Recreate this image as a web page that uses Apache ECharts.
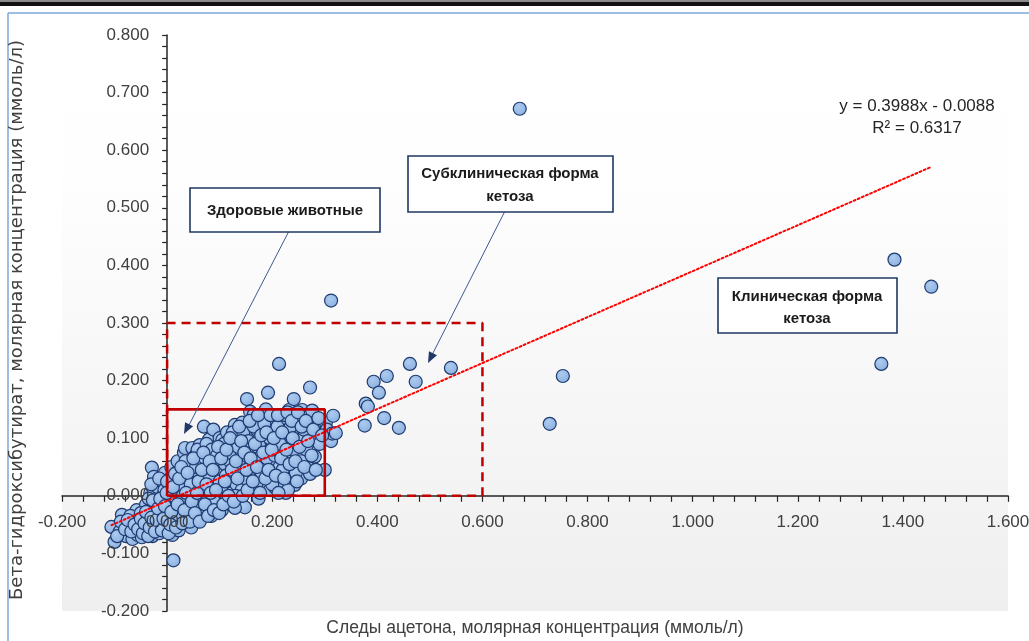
<!DOCTYPE html>
<html><head><meta charset="utf-8">
<script src="https://cdn.jsdelivr.net/npm/echarts@6/dist/echarts.min.js"></script>
<style>html,body{margin:0;padding:0;background:#fff}#c{width:1029px;height:641px}</style>
</head><body><div id="c"></div>
<script>
// ---- data ----
const xTickLabels = ['-0.200','0.000','0.200','0.400','0.600','0.800','1.000','1.200','1.400','1.600'];
const yTickLabels = ['-0.200','-0.100','0.000','0.100','0.200','0.300','0.400','0.500','0.600','0.700','0.800'];

const clusterPoints = [
[-0.106,-0.054],[-0.100,-0.080],[-0.086,-0.033],[-0.090,-0.062],[-0.078,-0.070],[-0.072,-0.052],[-0.066,-0.075],[-0.060,-0.040],[-0.064,-0.060],[-0.056,-0.068],[-0.052,-0.050],[-0.058,-0.025],
[-0.048,-0.072],[-0.045,-0.058],[-0.042,-0.035],[-0.040,-0.015],[-0.038,-0.062],[-0.035,-0.045],[-0.032,0.005],[-0.029,0.049],[-0.025,0.033],[-0.028,-0.070],[-0.024,-0.052],[-0.022,-0.030],[-0.020,-0.010],[-0.018,0.015],[-0.026,-0.020],
[-0.015,-0.065],[-0.012,-0.045],[-0.010,-0.025],[-0.008,0.000],[-0.006,0.022],[-0.004,0.040],[-0.002,-0.058],[0.000,-0.035],[0.002,-0.012],[0.004,0.010],[0.006,0.030],[0.008,0.050],[0.012,-0.112],[0.010,0.028],[0.010,-0.068],[0.012,-0.048],[0.014,-0.020],
[0.016,0.005],[0.018,0.040],[0.020,0.060],[0.022,-0.060],[0.024,-0.030],[0.026,-0.002],[0.028,0.020],[0.030,0.045],[0.032,0.075],[0.034,0.083],[0.036,-0.045],[0.038,-0.015],[0.040,0.010],[0.042,0.032],[0.044,0.058],[0.046,-0.055],[0.048,0.083],[0.048,-0.028],[0.050,0.000],[0.050,0.048],
[0.052,0.022],[0.054,0.070],[0.056,-0.040],[0.058,-0.010],[0.060,0.040],[0.062,0.088],[0.064,0.012],[0.066,0.060],[0.068,-0.030],[0.070,0.030],[0.070,0.120],[0.074,0.075],[0.076,-0.005],[0.078,0.050],[0.080,0.098],[0.082,0.020],[0.084,-0.035],[0.086,0.065],[0.088,0.115],[0.088,0.002],[0.090,0.040],[0.092,0.085],[0.094,-0.020],[0.096,0.025],[0.098,0.058],[0.100,0.100],[0.100,0.005],
[0.102,0.040],[0.104,-0.025],[0.105,0.097],[0.106,0.072],[0.108,0.015],[0.110,0.055],[0.112,-0.008],[0.114,0.110],[0.116,0.085],[0.118,0.030],[0.120,0.060],[0.122,-0.015],[0.124,0.005],[0.126,0.040],[0.128,0.095],[0.129,0.123],[0.130,0.070],[0.132,0.020],[0.134,-0.005],[0.136,0.050],[0.138,0.105],[0.140,0.080],[0.142,0.010],[0.143,0.127],[0.144,0.035],[0.146,0.060],[0.148,-0.020],[0.150,0.090],[0.129,-0.021],
[0.152,0.168],[0.154,0.120],[0.156,0.045],[0.158,0.146],[0.160,0.075],[0.162,0.010],[0.164,0.100],[0.165,0.141],[0.166,0.030],[0.168,0.060],[0.170,0.115],[0.172,0.085],[0.174,-0.005],[0.176,0.045],[0.178,0.130],[0.180,0.070],[0.182,0.015],[0.184,0.100],[0.186,0.050],[0.188,0.150],[0.190,0.030],[0.192,0.179],[0.194,0.118],[0.195,0.080],[0.196,0.010],[0.198,0.060],[0.200,0.097],[0.200,0.135],
[0.202,0.040],[0.205,0.015],[0.208,0.110],[0.210,0.075],[0.213,0.229],[0.214,0.050],[0.216,0.130],[0.218,0.025],[0.220,0.090],[0.222,0.128],[0.224,0.060],[0.226,0.005],[0.228,0.110],[0.230,0.040],[0.232,0.149],[0.234,0.075],[0.236,0.100],[0.238,0.020],[0.240,0.130],[0.241,0.168],[0.241,0.054],[0.243,0.019],[0.245,0.090],[0.248,0.115],[0.250,0.065],
[0.255,0.030],[0.257,0.149],[0.258,0.100],[0.262,0.140],[0.265,0.080],[0.270,0.048],[0.272,0.038],[0.272,0.104],[0.272,0.188],[0.276,0.148],[0.281,0.068],[0.285,0.120],[0.290,0.090],[0.300,0.045],[0.302,0.127],[0.304,0.115],[0.312,0.095],[0.314,0.108],[0.316,0.139],[0.321,0.109],
[-0.070,-0.035],[-0.050,-0.030],[-0.035,-0.005],[-0.030,0.020],[-0.015,0.030],[-0.005,0.010],[0.000,0.025],[0.005,-0.040],[0.012,0.000],[0.018,-0.038],[0.025,0.015],[0.030,0.000],[0.035,0.060],[0.040,-0.035],[0.045,0.020],[0.055,0.050],[0.058,0.080],[0.063,-0.020],[0.070,0.010],[0.075,0.090],[0.080,0.035],[0.085,0.080],[0.090,-0.010],[0.095,0.070],[0.100,0.025],[0.108,0.090],[0.112,0.035],[0.118,0.075],[0.125,0.110],[0.130,0.000],[0.135,0.085],[0.140,0.050],[0.145,0.110],[0.150,0.030],[0.155,0.095],[0.160,0.055],[0.165,0.120],[0.170,0.020],[0.175,0.090],[0.180,0.040],[0.185,0.125],[0.190,0.065],[0.195,0.100],[0.200,0.020],[0.205,0.070],[0.210,0.120],[0.215,0.090],[0.220,0.045],[0.225,0.140],[0.230,0.010],[0.235,0.120],[0.240,0.080],[0.245,0.040],[0.250,0.130],[0.255,0.060],[0.260,0.115],
[-0.095,-0.070],[-0.088,-0.045],[-0.080,-0.058],[-0.075,-0.042],[-0.068,-0.062],[-0.062,-0.050],[-0.055,-0.058],[-0.050,-0.040],[-0.046,-0.065],[-0.043,-0.048],[-0.040,-0.028],[-0.036,-0.070],[-0.033,-0.055],[-0.030,-0.038],[-0.027,-0.008],[-0.023,-0.062],[-0.020,-0.042],[-0.017,-0.022],[-0.013,-0.005],[-0.010,-0.060],[-0.007,-0.040],[-0.004,-0.018],[-0.001,0.005],[0.003,-0.065],[0.006,-0.050],[0.008,-0.028],[0.011,0.015],[0.015,0.038],[0.017,-0.055],[0.020,-0.015],[0.023,0.030],[0.027,0.050],[0.029,-0.048],[0.033,-0.025],[0.036,0.005],[0.039,0.040],[0.043,-0.045],[0.047,-0.010],[0.050,0.065],[0.053,-0.030],[0.057,0.005],[0.060,0.025],[0.062,-0.045],[0.066,0.045],[0.069,0.075],[0.072,-0.015],[0.075,0.020],[0.078,-0.035],[0.081,0.060],[0.083,0.005],[0.087,0.045],[0.089,-0.025],[0.093,0.010],[0.097,0.085],[0.099,-0.030],[0.103,0.065],[0.107,-0.015],[0.110,0.025],[0.113,0.080],[0.117,0.000],[0.120,0.100],[0.123,0.045],[0.127,-0.010],[0.131,0.060],[0.134,0.030],[0.137,0.120],[0.141,0.095],[0.144,0.000],[0.147,0.075],[0.151,0.045],[0.153,0.010],[0.157,0.130],[0.159,0.065],[0.163,0.025],[0.167,0.090],[0.171,0.050],[0.173,0.140],[0.177,0.005],[0.179,0.105],[0.183,0.075],[0.187,0.030],[0.189,0.110],[0.193,0.045],[0.197,0.140],[0.199,0.080],[0.203,0.100],[0.207,0.035],[0.211,0.140],[0.212,0.005],[0.217,0.065],[0.219,0.110],[0.223,0.030],[0.227,0.080],[0.229,0.145],[0.233,0.055],[0.237,0.130],[0.239,0.100],[0.244,0.060],[0.247,0.025],[0.249,0.145],[0.252,0.085],[0.256,0.120],[0.261,0.050],[0.264,0.130],[0.268,0.095],[0.275,0.070],[0.278,0.115],[0.283,0.045],[0.288,0.135],[0.295,0.105]
];
const subclinicalPoints = [
[0.312,0.339],[0.462,0.229],[0.540,0.222],[0.418,0.208],[0.393,0.198],[0.473,0.198],[0.403,0.179],[0.378,0.160],[0.382,0.155],[0.413,0.135],[0.376,0.122],[0.441,0.118]
];
const clinicalPoints = [
[0.671,0.672],[1.384,0.410],[1.454,0.363],[1.359,0.229],[0.753,0.208],[0.728,0.125]
];
const trendSlope = 0.3988;
const trendIntercept = -0.0088;
const healthyZone = { x: [0, 0.3], y: [0, 0.15] };
const subclinicalZone = { x: [0, 0.6], y: [0, 0.3] };

// ---- build ----
const allPoints = clusterPoints.concat(subclinicalPoints, clinicalPoints);
const xs = allPoints.map(p => p[0]);
const tMin = Math.min.apply(null, xs), tMax = Math.max.apply(null, xs);
const trendData = [[tMin, trendSlope * tMin + trendIntercept], [tMax, trendSlope * tMax + trendIntercept]];
function rectPath(z) { return [[z.x[0], z.y[0]], [z.x[1], z.y[0]], [z.x[1], z.y[1]], [z.x[0], z.y[1]], [z.x[0], z.y[0]]]; }

const xMin = parseFloat(xTickLabels[0]), xMax = parseFloat(xTickLabels[xTickLabels.length - 1]);
const xInt = parseFloat(xTickLabels[1]) - xMin;
const yMin = parseFloat(yTickLabels[0]), yMax = parseFloat(yTickLabels[yTickLabels.length - 1]);
const yInt = parseFloat(yTickLabels[1]) - yMin;
const xFmt = v => xTickLabels[Math.round((v - xMin) / xInt)] || '';
const yFmt = v => yTickLabels[Math.round((v - yMin) / yInt)] || '';

const W = 1029, H = 641;
const G = { left: 62, right: 21, top: 35, bottom: 30 };
const gridW = W - G.left - G.right, gridH = H - G.top - G.bottom;
// label-only axes are shifted onto the zero lines
const xLabelOffset = -((0 - yMin) / (yMax - yMin)) * gridH;
const yLabelOffset = -((0 - xMin) / (xMax - xMin)) * gridW;

const FONT = '"Liberation Sans", Arial, sans-serif';
const axisColor = '#262626';
const labelColor = '#404040';

const chart = echarts.init(document.getElementById('c'), null, { renderer: 'canvas' });

function arrowHead(tx, ty, sx, sy) {
  const dx = tx - sx, dy = ty - sy, L = Math.sqrt(dx * dx + dy * dy);
  const ux = dx / L, uy = dy / L, bx = tx - 11 * ux, by = ty - 11 * uy, px = -uy * 4.5, py = ux * 4.5;
  return [[tx, ty], [bx + px, by + py], [bx - px, by - py]];
}
const boxStyle = { fill: '#ffffff', stroke: '#1f3864', lineWidth: 1.6 };
const boxFont = 'bold 15px ' + FONT;

chart.setOption({
  animation: false,
  backgroundColor: '#ffffff',
  grid: {
    left: G.left, right: G.right, top: G.top, bottom: G.bottom, show: true, borderWidth: 0,
    containLabel: false, outerBoundsMode: 'none',
    backgroundColor: new echarts.graphic.LinearGradient(0, 0, 0, 1, [
      { offset: 0, color: '#ffffff' }, { offset: 0.25, color: '#fefefe' }, { offset: 1, color: '#efefef' }
    ])
  },
  xAxis: [{
    type: 'value', min: xMin, max: xMax, interval: xInt,
    axisLine: { onZero: true, onZeroAxisIndex: 0, lineStyle: { color: axisColor, width: 1.5 } },
    axisTick: { show: true, length: 6, lineStyle: { color: axisColor, width: 1.2 } },
    minorTick: { show: true, splitNumber: 5, length: 6, lineStyle: { color: axisColor, width: 1.2 } },
    axisLabel: { show: false }, splitLine: { show: false }, minorSplitLine: { show: false }
  }, {
    type: 'value', min: xMin, max: xMax, interval: xInt, position: 'bottom', offset: xLabelOffset, z: 8,
    axisLine: { show: false, onZero: false },
    axisTick: { show: false }, splitLine: { show: false },
    axisLabel: { show: true, margin: 18, formatter: xFmt, color: labelColor, fontSize: 17, fontFamily: FONT }
  }],
  yAxis: [{
    type: 'value', min: yMin, max: yMax, interval: yInt,
    axisLine: { onZero: true, onZeroAxisIndex: 0, lineStyle: { color: axisColor, width: 1.5 } },
    axisTick: { show: true, length: 5, lineStyle: { color: axisColor, width: 1.2 } },
    minorTick: { show: true, splitNumber: 5, length: 5, lineStyle: { color: axisColor, width: 1.2 } },
    axisLabel: { show: false }, splitLine: { show: false }, minorSplitLine: { show: false }
  }, {
    type: 'value', min: yMin, max: yMax, interval: yInt, position: 'left', offset: yLabelOffset, z: 8,
    axisLine: { show: false, onZero: false },
    axisTick: { show: false }, splitLine: { show: false },
    axisLabel: { show: true, margin: 18, formatter: yFmt, color: labelColor, fontSize: 17, fontFamily: FONT }
  }],
  series: [{
    type: 'scatter', xAxisIndex: 0, yAxisIndex: 0, z: 2,
    data: allPoints, symbol: 'circle', symbolSize: 13,
    itemStyle: {
      color: new echarts.graphic.RadialGradient(0.4, 0.35, 0.7, [
        { offset: 0, color: '#adcbef' }, { offset: 1, color: '#89afe0' }
      ]),
      borderColor: '#1f3a6e', borderWidth: 1.2, opacity: 1
    }
  }, {
    type: 'line', xAxisIndex: 1, yAxisIndex: 1, z: 4, data: trendData, symbol: 'none',
    lineStyle: { color: '#ff0000', width: 2, type: [2, 2.5], cap: 'round' }
  }, {
    type: 'line', xAxisIndex: 0, yAxisIndex: 0, z: 5, data: rectPath(subclinicalZone), symbol: 'none',
    lineStyle: { color: '#c00000', width: 2.5, type: [9, 6] }
  }, {
    type: 'line', xAxisIndex: 0, yAxisIndex: 0, z: 5, data: rectPath(healthyZone), symbol: 'none',
    lineStyle: { color: '#c00000', width: 2.6, type: 'solid' }
  }],
  graphic: [
    { type: 'rect', z: 100, shape: { x: 0, y: 0, width: 1029, height: 2 }, style: { fill: '#8a8a8a' } },
    { type: 'rect', z: 100, shape: { x: 0, y: 2, width: 1029, height: 4 }, style: { fill: '#111111' } },
    { type: 'line', z: 100, shape: { x1: 8, y1: 13, x2: 1029, y2: 13 }, style: { stroke: '#7fa6d8', lineWidth: 1.5 } },
    { type: 'line', z: 100, shape: { x1: 8, y1: 13, x2: 8, y2: 641 }, style: { stroke: '#7fa6d8', lineWidth: 1.5 } },
    { type: 'text', z: 100, x: 17, y: 320, rotation: Math.PI / 2,
      style: { text: 'Бета-гидроксибутират, молярная концентрация (ммоль/л)', font: '18px "DejaVu Sans", sans-serif', fill: '#404040', align: 'center', verticalAlign: 'middle' } },
    { type: 'text', z: 100, x: 535, y: 628,
      style: { text: 'Следы ацетона, молярная концентрация (ммоль/л)', font: '17.5px ' + FONT, fill: '#404040', align: 'center', verticalAlign: 'middle' } },
    { type: 'text', z: 100, x: 917, y: 106,
      style: { text: 'y = 0.3988x - 0.0088', font: '17px ' + FONT, fill: '#262626', align: 'center', verticalAlign: 'middle' } },
    { type: 'text', z: 100, x: 917, y: 128,
      style: { text: 'R² = 0.6317', font: '17px ' + FONT, fill: '#262626', align: 'center', verticalAlign: 'middle' } },
    // arrows
    { type: 'line', z: 100, shape: { x1: 289, y1: 231, x2: 188, y2: 427 }, style: { stroke: '#3c5a94', lineWidth: 1 } },
    { type: 'polygon', z: 100, shape: { points: arrowHead(184, 434, 289, 231) }, style: { fill: '#1f3864' } },
    { type: 'line', z: 100, shape: { x1: 505, y1: 211, x2: 432, y2: 355 }, style: { stroke: '#3c5a94', lineWidth: 1 } },
    { type: 'polygon', z: 100, shape: { points: arrowHead(428, 363, 505, 211) }, style: { fill: '#1f3864' } },
    // boxes
    { type: 'rect', z: 101, shape: { x: 190, y: 188, width: 190, height: 44 }, style: boxStyle },
    { type: 'text', z: 102, x: 285, y: 211, style: { text: 'Здоровые животные', font: boxFont, fill: '#1a1a1a', align: 'center', verticalAlign: 'middle' } },
    { type: 'rect', z: 101, shape: { x: 408, y: 156, width: 205, height: 56 }, style: boxStyle },
    { type: 'text', z: 102, x: 510, y: 174, style: { text: 'Субклиническая форма', font: boxFont, fill: '#1a1a1a', align: 'center', verticalAlign: 'middle' } },
    { type: 'text', z: 102, x: 510, y: 197, style: { text: 'кетоза', font: boxFont, fill: '#1a1a1a', align: 'center', verticalAlign: 'middle' } },
    { type: 'rect', z: 101, shape: { x: 718, y: 278, width: 179, height: 55 }, style: boxStyle },
    { type: 'text', z: 102, x: 807, y: 297, style: { text: 'Клиническая форма', font: boxFont, fill: '#1a1a1a', align: 'center', verticalAlign: 'middle' } },
    { type: 'text', z: 102, x: 807, y: 319, style: { text: 'кетоза', font: boxFont, fill: '#1a1a1a', align: 'center', verticalAlign: 'middle' } }
  ]
});
</script></body></html>
